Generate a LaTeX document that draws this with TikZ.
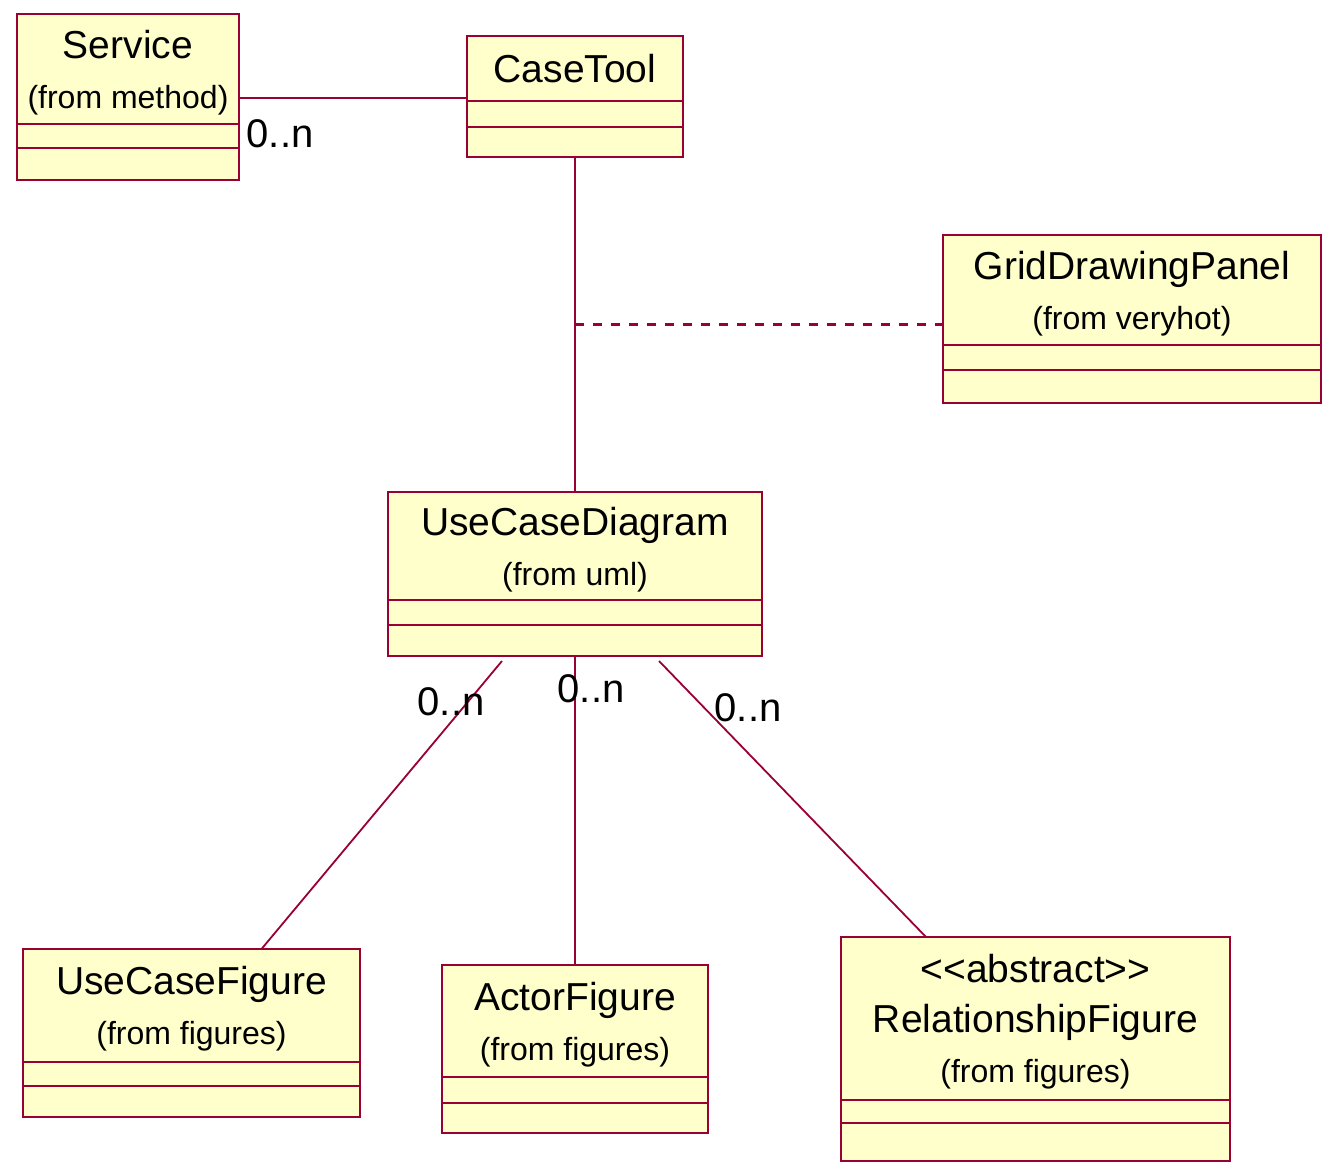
\documentclass[tikz,border=0pt]{standalone}
\usepackage{fontspec}
\setmainfont{Liberation Sans}
\usetikzlibrary{positioning, calc}
\definecolor{roseline}{HTML}{990033}
\definecolor{rosefill}{HTML}{FFFFCC}
\newcommand{\fromtxt}[1]{\raisebox{0pt}[\height][0pt]{\fontsize{32}{50}\selectfont (from #1)}}

\begin{document}
\begin{tikzpicture}[
         x=1pt, y=-1pt,
         box/.style={draw=roseline, fill=rosefill, line width=2.5pt, inner sep=0pt, outer sep=0pt},
         classname/.style={box, anchor=north west, align=center, font=\fontsize{39}{50}\selectfont},
         compart/.style={box, below=0pt of #1},
         assoc/.style={draw=roseline, line width=2.2pt},
         mult/.style={font=\fontsize{40}{48}\selectfont, inner sep=0pt}
      ]
         \useasboundingbox (0,0) rectangle (1335,1172);

         % Classes: name, attribute and operation compartments
         \node[classname, minimum width=222pt, minimum height=110pt] (svcn) at (17,14) {Service\\\fromtxt{method}};
         \node[compart=svcn, minimum width=222pt, minimum height=24pt] (svca) {};
         \node[compart=svca, minimum width=222pt, minimum height=32pt] (svco) {};

         \node[classname, minimum width=216pt, minimum height=65pt] (ctn) at (467,36) {CaseTool};
         \node[compart=ctn, minimum width=216pt, minimum height=26pt] (cta) {};
         \node[compart=cta, minimum width=216pt, minimum height=30pt] (cto) {};

         \node[classname, minimum width=378pt, minimum height=110pt] (gdpn) at (943,235) {GridDrawingPanel\\\fromtxt{veryhot}};
         \node[compart=gdpn, minimum width=378pt, minimum height=25pt] (gdpa) {};
         \node[compart=gdpa, minimum width=378pt, minimum height=33pt] (gdpo) {};

         \node[classname, minimum width=374pt, minimum height=108pt] (ucdn) at (388,492) {UseCaseDiagram\\\fromtxt{uml}};
         \node[compart=ucdn, minimum width=374pt, minimum height=25pt] (ucda) {};
         \node[compart=ucda, minimum width=374pt, minimum height=31pt] (ucdo) {};

         \node[classname, minimum width=337pt, minimum height=113pt] (ucfn) at (23,949) {UseCaseFigure\\\fromtxt{figures}};
         \node[compart=ucfn, minimum width=337pt, minimum height=24pt] (ucfa) {};
         \node[compart=ucfa, minimum width=337pt, minimum height=31pt] (ucfo) {};

         \node[classname, minimum width=266pt, minimum height=112pt] (afn) at (442,965) {ActorFigure\\\fromtxt{figures}};
         \node[compart=afn, minimum width=266pt, minimum height=26pt] (afa) {};
         \node[compart=afa, minimum width=266pt, minimum height=30pt] (afo) {};

         \node[classname, minimum width=389pt, minimum height=163pt] (rfn) at (841,937) {{<}{<}abstract{>}{>}\\RelationshipFigure\\\fromtxt{figures}};
         \node[compart=rfn, minimum width=389pt, minimum height=23pt] (rfa) {};
         \node[compart=rfa, minimum width=389pt, minimum height=38pt] (rfo) {};

         % Associations
         \draw[assoc] ($(svcn.south east)+(0,-26)$) coordinate (svcend) -- (svcend -| ctn.west);
         \draw[assoc] (cto.south) -- coordinate[pos=0.5] (ctmid) (ucdn.north);
         \draw[assoc, dash pattern=on 9pt off 9pt] (ctmid) -- (ctmid -| gdpn.west);
         \draw[assoc, line width=1.8pt] ([shift={(-73,5)}]ucdo.south) -- ([xshift=70pt]ucfn.north);
         \draw[assoc] (ucdo.south) -- (afn.north);
         \draw[assoc, line width=1.8pt] ([shift={(84,5)}]ucdo.south) -- ([xshift=-109.5pt]rfn.north);

         % Multiplicities
         \node[mult] (svcmult) at (280,134) {0..n};
         \node[mult] (ucfmult) at (451,702) {0..n};
         \node[mult] (afmult) at (591,689) {0..n};
         \node[mult] (rfmult) at (748,708) {0..n};
\end{tikzpicture}
\end{document}
